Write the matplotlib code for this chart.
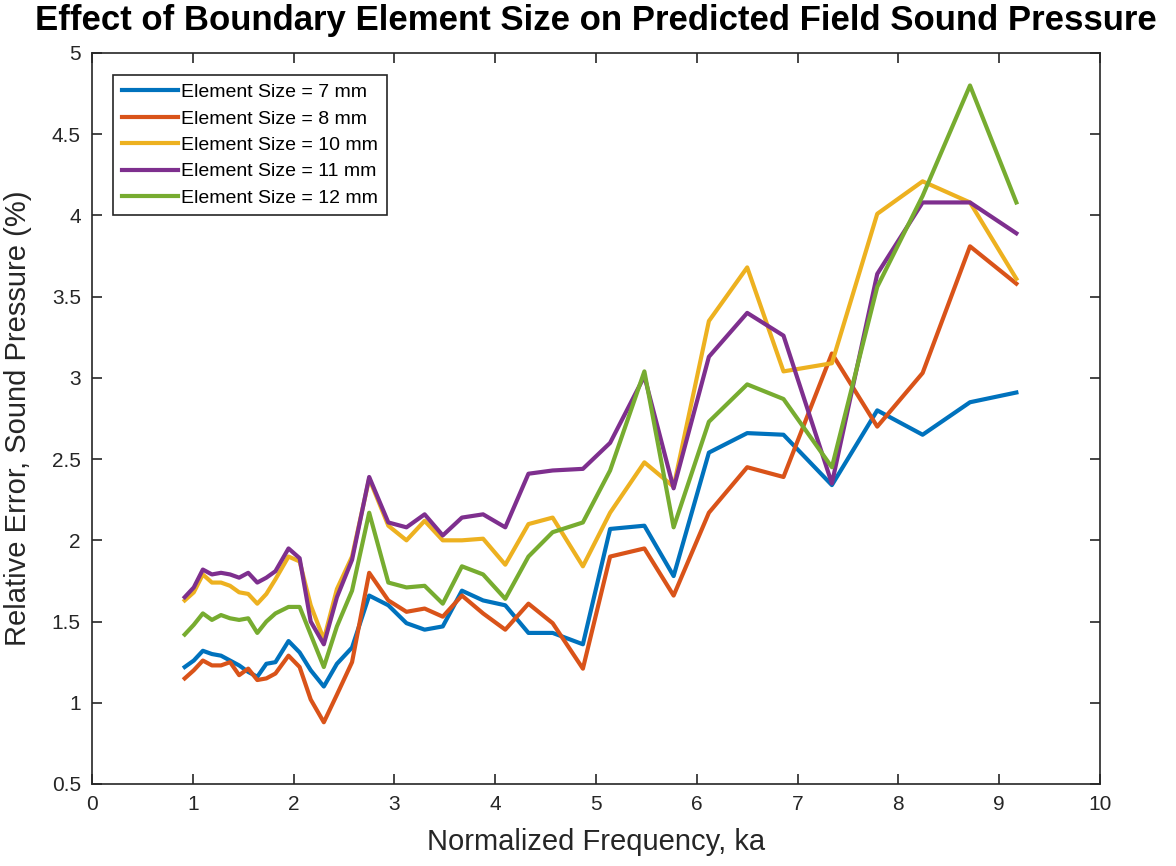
import matplotlib.pyplot as plt
from matplotlib import font_manager

# normalized frequency ka (shared by all series)
ka = [0.92, 1.01, 1.10, 1.19, 1.28, 1.37, 1.46, 1.55, 1.64, 1.73, 1.82, 1.95, 2.06,
      2.17, 2.30, 2.43, 2.58, 2.75, 2.94, 3.12, 3.30, 3.48, 3.67, 3.88, 4.10, 4.33,
      4.57, 4.87, 5.14, 5.48, 5.77, 6.12, 6.50, 6.86, 7.34, 7.79, 8.24, 8.71, 9.17]

# relative error (%) per element size
err_7mm = [1.22, 1.26, 1.32, 1.30, 1.29, 1.26, 1.23, 1.19, 1.16, 1.24, 1.25, 1.38, 1.31,
           1.20, 1.10, 1.24, 1.34, 1.66, 1.60, 1.49, 1.45, 1.47, 1.69, 1.63, 1.60, 1.43,
           1.43, 1.36, 2.07, 2.09, 1.78, 2.54, 2.66, 2.65, 2.34, 2.80, 2.65, 2.85, 2.91]
err_8mm = [1.15, 1.20, 1.26, 1.23, 1.23, 1.25, 1.17, 1.21, 1.14, 1.15, 1.18, 1.29, 1.22,
           1.02, 0.88, 1.05, 1.25, 1.80, 1.63, 1.56, 1.58, 1.53, 1.66, 1.55, 1.45, 1.61,
           1.49, 1.21, 1.90, 1.95, 1.66, 2.17, 2.45, 2.39, 3.15, 2.70, 3.03, 3.81, 3.58]
err_10mm = [1.63, 1.68, 1.79, 1.74, 1.74, 1.72, 1.68, 1.67, 1.61, 1.67, 1.76, 1.90, 1.87,
            1.60, 1.39, 1.70, 1.90, 2.38, 2.09, 2.00, 2.12, 2.00, 2.00, 2.01, 1.85, 2.10,
            2.14, 1.84, 2.17, 2.48, 2.33, 3.35, 3.68, 3.04, 3.09, 4.01, 4.21, 4.08, 3.61]
err_11mm = [1.65, 1.71, 1.82, 1.79, 1.80, 1.79, 1.77, 1.80, 1.74, 1.77, 1.81, 1.95, 1.89,
            1.50, 1.36, 1.65, 1.88, 2.39, 2.11, 2.08, 2.16, 2.03, 2.14, 2.16, 2.08, 2.41,
            2.43, 2.44, 2.60, 3.01, 2.32, 3.13, 3.40, 3.26, 2.35, 3.64, 4.08, 4.08, 3.89]
err_12mm = [1.42, 1.48, 1.55, 1.51, 1.54, 1.52, 1.51, 1.52, 1.43, 1.50, 1.55, 1.59, 1.59,
            1.42, 1.22, 1.47, 1.69, 2.17, 1.74, 1.71, 1.72, 1.61, 1.84, 1.79, 1.64, 1.90,
            2.05, 2.11, 2.43, 3.04, 2.08, 2.73, 2.96, 2.87, 2.45, 3.56, 4.12, 4.80, 4.08]

labels = ["Element Size = 7 mm", "Element Size = 8 mm", "Element Size = 10 mm",
          "Element Size = 11 mm", "Element Size = 12 mm"]
colores = ["#0072BD", "#D95319", "#EDB120", "#7E2F8E", "#77AC30"]

installed = {f.name for f in font_manager.fontManager.ttflist}
narrow = "Liberation Sans Narrow" if "Liberation Sans Narrow" in installed else "Liberation Sans"
plt.rcParams["font.family"] = ["Liberation Sans", "DejaVu Sans"]

fig = plt.figure(figsize=(11.76, 8.66), dpi=100)
ax = fig.add_axes([0.0782, 0.0947, 0.8572, 0.8441])

for serie, lab, c in zip([err_7mm, err_8mm, err_10mm, err_11mm, err_12mm], labels, colores):
    ax.plot(ka, serie, color=c, linewidth=3, label=lab)

ax.set_xlim(0, 10)
ax.set_ylim(0.5, 5)
ax.set_xticks(range(0, 11))
ax.set_yticks([0.5, 1, 1.5, 2, 2.5, 3, 3.5, 4, 4.5, 5])
ax.set_yticklabels(["0.5", "1", "1.5", "2", "2.5", "3", "3.5", "4", "4.5", "5"])
ax.tick_params(direction="in", top=True, right=True, length=7, width=1.2,
               labelsize=15, colors="#262626", pad=8)
for s in ax.spines.values():
    s.set_color("#262626")
    s.set_linewidth(1.2)

ax.set_xlabel("Normalized Frequency, ka", fontsize=21, color="#262626", labelpad=10)
ax.set_ylabel("Relative Error, Sound Pressure (%)", fontsize=21, color="#262626", labelpad=14)
fig.suptitle("Effect of Boundary Element Size on Predicted Field Sound Pressure",
             x=0.507, y=0.995, fontsize=25, fontweight="bold", family=[narrow, "DejaVu Sans"])

leg = ax.legend(loc="upper left", bbox_to_anchor=(0.021, 0.97), borderaxespad=0,
                fontsize=14, handlelength=2.9, handletextpad=0.15, labelspacing=0.45,
                borderpad=0.45, fancybox=False, framealpha=1, edgecolor="#262626")
leg.get_frame().set_linewidth(1.2)

fig.savefig("out.png", dpi=100)
plt.close()
